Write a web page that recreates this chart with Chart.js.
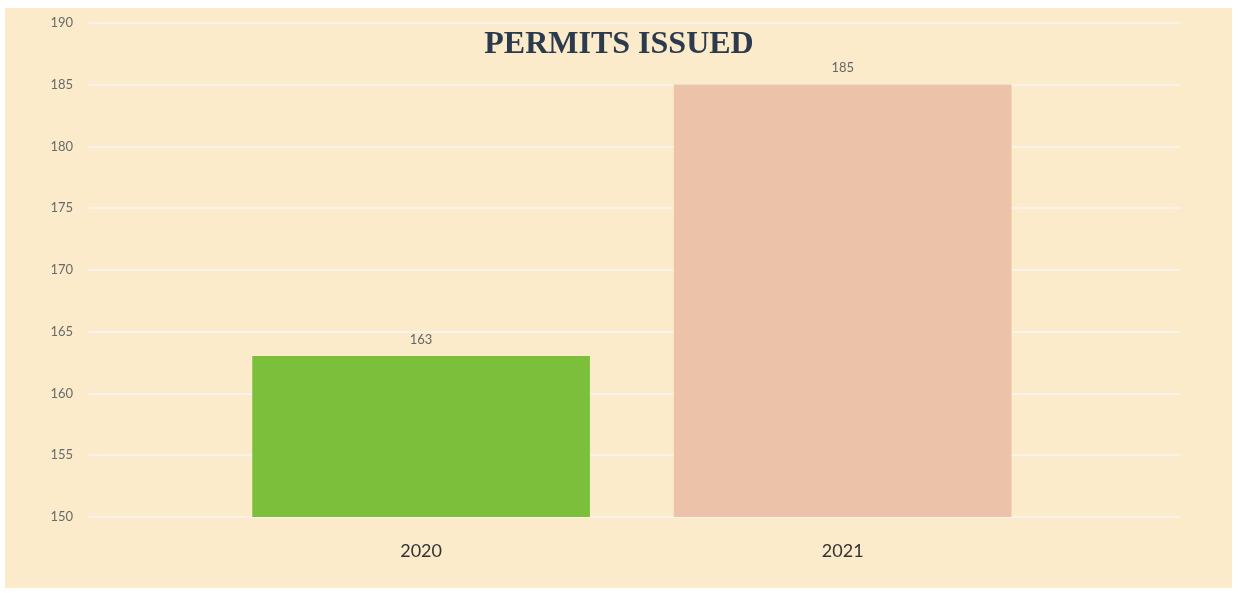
<!DOCTYPE html>
<html>
<head>
<meta charset="utf-8">
<script src="https://cdn.jsdelivr.net/npm/chart.js@4/dist/chart.umd.min.js"></script>
<style>
  html, body { margin: 0; padding: 0; background: #ffffff; }
  #wrap { position: relative; width: 1238px; height: 593px; }
  #panel { position: absolute; left: 5px; top: 8px; width: 1227px; height: 580px; background: #fbebcb; }
  #grafico { position: absolute; left: 0; top: 0; }
  #titulo {
    position: absolute; left: 0; width: 1238px; top: 23px;
    text-align: center; font: bold 32px "Liberation Serif", "Times New Roman", serif;
    color: #2c3a4e; line-height: 38px;
  }
</style>
</head>
<body>
<div id="wrap">
  <div id="panel"></div>
  <canvas id="grafico" width="1238" height="593"></canvas>
  <div id="titulo">PERMITS ISSUED</div>
</div>
<script>
// datos del grafico
const years = ['2020', '2021'];
const permits = [163, 185];
const barColors = ['#7bbf3a', '#ecc3a9'];
const yTicks = [150, 155, 160, 165, 170, 175, 180, 185, 190];

// etiqueta de valor encima de cada barra
const valueLabels = {
  id: 'valueLabels',
  afterDatasetsDraw(chart) {
    const ctx = chart.ctx;
    const meta = chart.getDatasetMeta(0);
    ctx.save();
    ctx.font = '13px Lato, "Open Sans", sans-serif';
    ctx.fillStyle = '#666666';
    ctx.textAlign = 'center';
    ctx.textBaseline = 'middle';
    meta.data.forEach((bar, i) => {
      ctx.fillText(String(permits[i]), bar.x, bar.y - 17);
    });
    ctx.restore();
  }
};

const ctx = document.getElementById('grafico').getContext('2d');
const myChart = new Chart(ctx, {
  type: 'bar',
  data: {
    datasets: [{
      data: years.map((y, i) => ({ x: i + 1, y: permits[i] })),
      backgroundColor: barColors,
      borderWidth: 0,
      barThickness: 337
    }]
  },
  options: {
    responsive: false,
    animation: false,
    layout: { padding: { top: 23, right: 58, left: 0, bottom: 0 } },
    plugins: {
      legend: { display: false },
      tooltip: { enabled: false }
    },
    scales: {
      x: {
        type: 'linear',
        min: 0.21,
        max: 2.8,
        offset: false,
        bounds: 'data',
        grid: { display: false, offset: false },
        border: { display: false },
        afterBuildTicks: (scale) => {
          scale.ticks = years.map((_, i) => ({ value: i + 1 }));
        },
        afterFit: (scale) => { scale.height = 76; },
        ticks: {
          padding: 15,
          color: '#333333',
          font: { family: 'Lato, "Open Sans", sans-serif', size: 18 },
          callback: (v) => years[v - 1]
        }
      },
      y: {
        min: yTicks[0],
        max: yTicks[yTicks.length - 1],
        afterBuildTicks: (scale) => {
          scale.ticks = yTicks.map(v => ({ value: v }));
        },
        afterFit: (scale) => { scale.width = 88; },
        border: { display: false },
        grid: { color: '#f7f2ea', lineWidth: 2, drawTicks: false },
        ticks: {
          padding: 15,
          color: '#6a6a6a',
          font: { family: 'Lato, "Open Sans", sans-serif', size: 13 }
        }
      }
    }
  },
  plugins: [valueLabels]
});
</script>
</body>
</html>
